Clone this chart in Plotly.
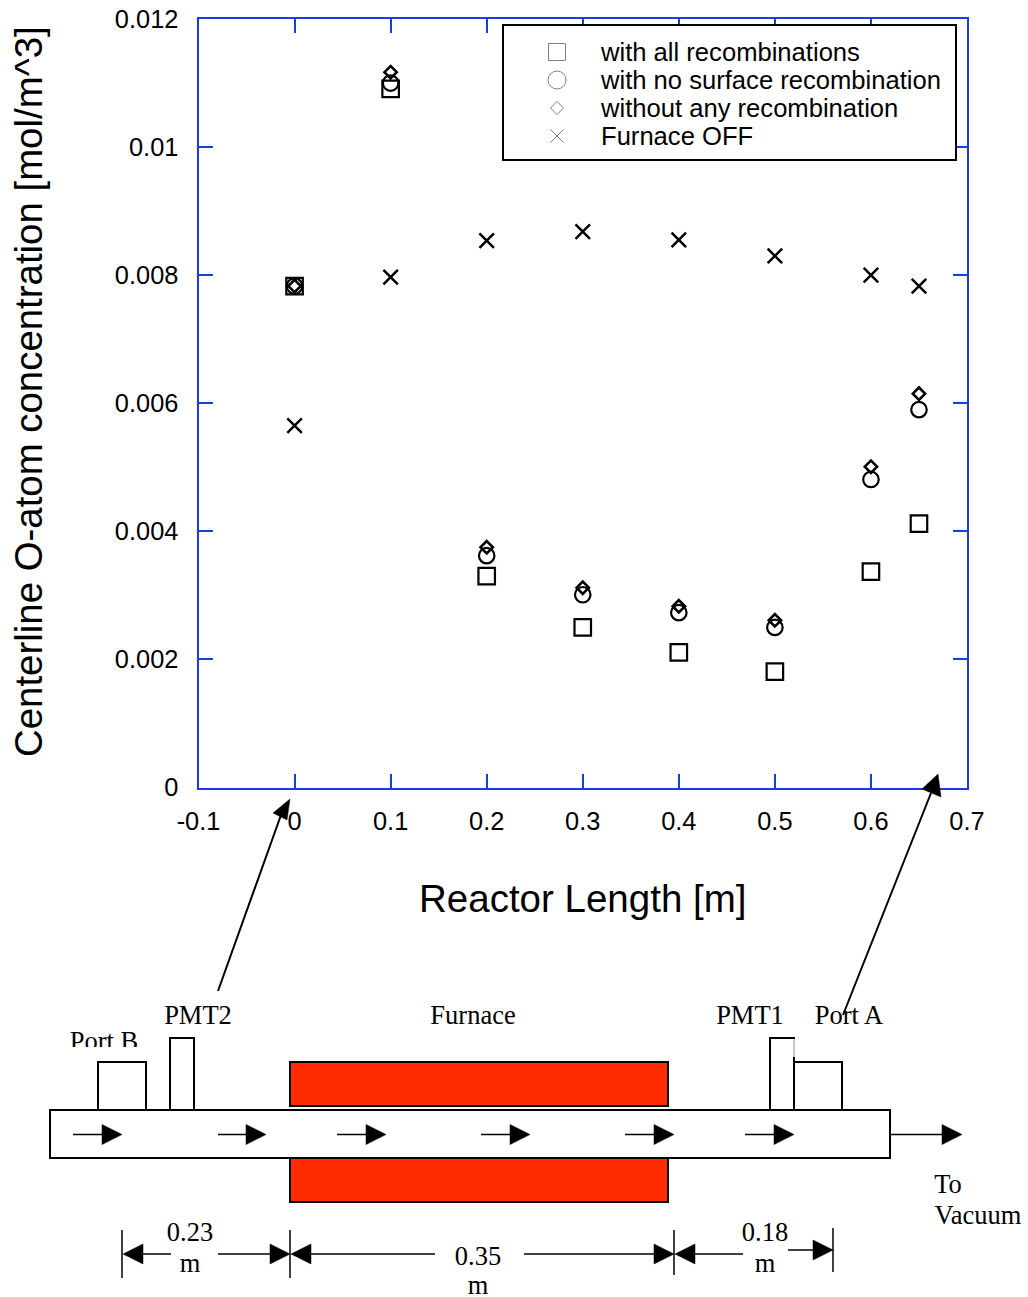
import plotly.graph_objects as go

W, H = 1028, 1297
SANS = "Liberation Sans, Arial, sans-serif"
SERIF = "Liberation Serif, Times New Roman, serif"
BLUE = "#1a3de0"
RED = "#ff2a00"

# ---------- chart data ----------
reactor_x = [0, 0.1, 0.2, 0.3, 0.4, 0.5, 0.6, 0.65]
all_recomb = [0.00783, 0.01091, 0.0033, 0.0025, 0.00211, 0.00181, 0.00337, 0.00412]
no_surface = [0.00783, 0.01100, 0.00362, 0.00301, 0.00273, 0.0025, 0.00481, 0.0059]
no_recomb = [0.00783, 0.01117, 0.00375, 0.00312, 0.00283, 0.00261, 0.00501, 0.00615]
furnace_off = [0.00565, 0.00797, 0.00854, 0.00868, 0.00855, 0.0083, 0.008, 0.00783]
x_ticks = [-0.1, 0, 0.1, 0.2, 0.3, 0.4, 0.5, 0.6, 0.7]
x_tick_text = ["-0.1", "0", "0.1", "0.2", "0.3", "0.4", "0.5", "0.6", "0.7"]
y_ticks = [0, 0.002, 0.004, 0.006, 0.008, 0.01, 0.012]
y_tick_text = ["0", "0.002", "0.004", "0.006", "0.008", "0.01", "0.012"]

series_names = ["with all recombinations", "with no surface recombination",
                "without any recombination", "Furnace OFF"]
series_values = [all_recomb, no_surface, no_recomb, furnace_off]
series_symbols = ["square-open", "circle-open", "diamond-open", "x-thin-open"]
series_sizes = [16.5, 15.5, 9.5, 14.5]
series_widths = [2.2, 2.2, 2.6, 2.5]
legend_sizes = [17, 18, 10, 13]

# ---------- schematic geometry (overlay axes measured in page pixels) ----------
boxes = [(50, 1110, 890, 1158), (98, 1062, 146, 1110), (170, 1038, 194, 1110),
         (770, 1038, 794, 1110), (794, 1062, 842, 1110)]
furnace = [(290, 1062, 668, 1106), (290, 1158, 668, 1202)]
flow_arrows = [(73, 122), (218, 266), (337, 386), (481, 530), (625, 674), (745, 794), (890, 962)]
flow_y = 1134.5
dim_ticks = [(122, 1230, 1278), (290, 1230, 1278), (674, 1230, 1275), (833, 1228, 1272)]
dim_arrows = [(171, 123, 1254), (218, 290, 1254), (435, 291, 1254),
              (524, 674, 1254), (743, 675, 1254), (788, 833, 1250)]
pointer_lines = [(218, 991, 281, 815), (843, 1015, 931, 793)]
pointer_heads = [[(290, 799), (273, 813), (287, 820)], [(938, 774), (922, 789), (941, 797)]]
diagram_labels = ["PMT2", "Furnace", "PMT1", "Port A", "Port B", "To", "Vacuum",
                  "0.23", "m", "0.35", "m", "0.18", "m"]
diagram_x = [198, 473, 750, 849, 104, 948, 978, 190, 190, 478, 478, 765, 765]
diagram_y = [1017, 1017, 1017, 1017, 1043, 1186, 1217, 1234, 1265, 1258, 1287, 1234, 1265]
legend_box = (503, 25, 956, 160)
legend_mark_x = 557
legend_text_x = 601
legend_rows = [52, 80, 108, 136]
legend_text_y = [55, 83, 111, 139]

fig = go.Figure()

# main chart
for name, vals, sym, size, lw in zip(series_names, series_values, series_symbols, series_sizes, series_widths):
    fig.add_trace(go.Scatter(x=reactor_x, y=vals, mode="markers", name=name,
                             marker=dict(symbol=sym, size=size, color="black",
                                         line=dict(color="black", width=lw)),
                             xaxis="x", yaxis="y", cliponaxis=False))

# drawn key
for name, sym, size, ry in zip(series_names, series_symbols, legend_sizes, legend_rows):
    fig.add_trace(go.Scatter(x=[legend_mark_x], y=[ry], mode="markers", showlegend=False,
                             marker=dict(symbol=sym, size=size, color="#808080",
                                         line=dict(color="#808080", width=1)),
                             xaxis="x2", yaxis="y2", hoverinfo="skip"))
fig.add_trace(go.Scatter(x=[legend_text_x] * 4, y=legend_text_y, mode="text", text=series_names,
                         textposition="middle right", textfont=dict(family=SANS, size=25.6, color="black"),
                         xaxis="x2", yaxis="y2", showlegend=False, hoverinfo="skip", cliponaxis=False))
# schematic labels
fig.add_trace(go.Scatter(x=diagram_x, y=diagram_y, mode="text", text=diagram_labels,
                         textposition="middle center", textfont=dict(family=SERIF, size=26.5, color="black"),
                         xaxis="x2", yaxis="y2", showlegend=False, hoverinfo="skip", cliponaxis=False))

shapes = []


def S(**kw):
    base = dict(xref="x2", yref="y2", layer="below")
    base.update(kw)
    shapes.append(base)


def tri(pts, layer="below"):
    path = "M " + " L ".join(f"{a},{b}" for a, b in pts) + " Z"
    S(type="path", path=path, fillcolor="black", line=dict(color="black", width=0.5), layer=layer)


def arrow(x0, x1, y, hl=20, hh=10):
    d = 1 if x1 > x0 else -1
    S(type="line", x0=x0, x1=x1 - d * hl, y0=y, y1=y, line=dict(color="black", width=1.5))
    tri([(x1, y), (x1 - d * hl, y - hh), (x1 - d * hl, y + hh)])


S(type="rect", x0=legend_box[0], y0=legend_box[1], x1=legend_box[2], y1=legend_box[3],
  fillcolor="white", line=dict(color="black", width=2))
for x0, y0, x1, y1 in furnace:
    S(type="rect", x0=x0, y0=y0, x1=x1, y1=y1, fillcolor=RED, line=dict(color="black", width=2))
for x0, y0, x1, y1 in boxes:
    S(type="rect", x0=x0, y0=y0, x1=x1, y1=y1, fillcolor="white", line=dict(color="black", width=2))
S(type="line", x0=794, x1=794, y0=1039, y1=1057, line=dict(color="#c8c8c8", width=2))
for a, b in flow_arrows:
    arrow(a, b, flow_y)
for x, a, b in dim_ticks:
    S(type="line", x0=x, x1=x, y0=a, y1=b, line=dict(color="black", width=1.5))
for a, b, y in dim_arrows:
    arrow(a, b, y)
# clip the top-cut "Port B" label
S(type="rect", x0=60, x1=150, y0=1047, y1=1060.5, fillcolor="white", line=dict(width=0), layer="above")
for x0, y0, x1, y1 in pointer_lines:
    S(type="line", x0=x0, y0=y0, x1=x1, y1=y1, line=dict(color="black", width=2), layer="above")
for pts in pointer_heads:
    tri(pts, layer="above")

axis_common = dict(showline=True, linecolor=BLUE, linewidth=2, mirror="ticks", ticks="inside",
                   ticklen=14, tickwidth=2, tickcolor=BLUE, showgrid=False, zeroline=False,
                   tickfont=dict(family=SANS, size=25.4, color="black"), fixedrange=True,
                   automargin=False)

fig.update_layout(
    width=W, height=H, autosize=False,
    margin=dict(l=0, r=0, t=0, b=0),
    paper_bgcolor="white", plot_bgcolor="rgba(0,0,0,0)",
    showlegend=False, shapes=shapes,
    xaxis=dict(domain=[198.5 / W, 967 / W], range=[-0.1, 0.7], tickmode="array",
               tickvals=x_ticks, ticktext=x_tick_text, ticklabelstandoff=10,
               title=dict(text="Reactor Length [m]", font=dict(family=SANS, size=38.5, color="black"), standoff=51),
               **axis_common),
    yaxis=dict(domain=[1 - 787.5 / H, 1 - 19 / H], range=[0, 0.012], tickmode="array",
               tickvals=y_ticks, ticktext=y_tick_text, ticklabelstandoff=13,
               **axis_common),
    xaxis2=dict(domain=[0, 1], range=[0, W], visible=False, fixedrange=True, anchor="y2", automargin=False),
    yaxis2=dict(domain=[0, 1], range=[H, 0], visible=False, fixedrange=True, anchor="x2", automargin=False),
    annotations=[dict(text="Centerline O-atom concentration [mol/m^3]", xref="x2", yref="y2", x=28, y=392,
                      textangle=-90, showarrow=False, xanchor="center", yanchor="middle",
                      font=dict(family=SANS, size=38.4, color="black"))],
)

fig.write_html("out.html", config=dict(displayModeBar=False),
               post_script="document.body.style.margin='0';document.documentElement.style.overflow='hidden';")
